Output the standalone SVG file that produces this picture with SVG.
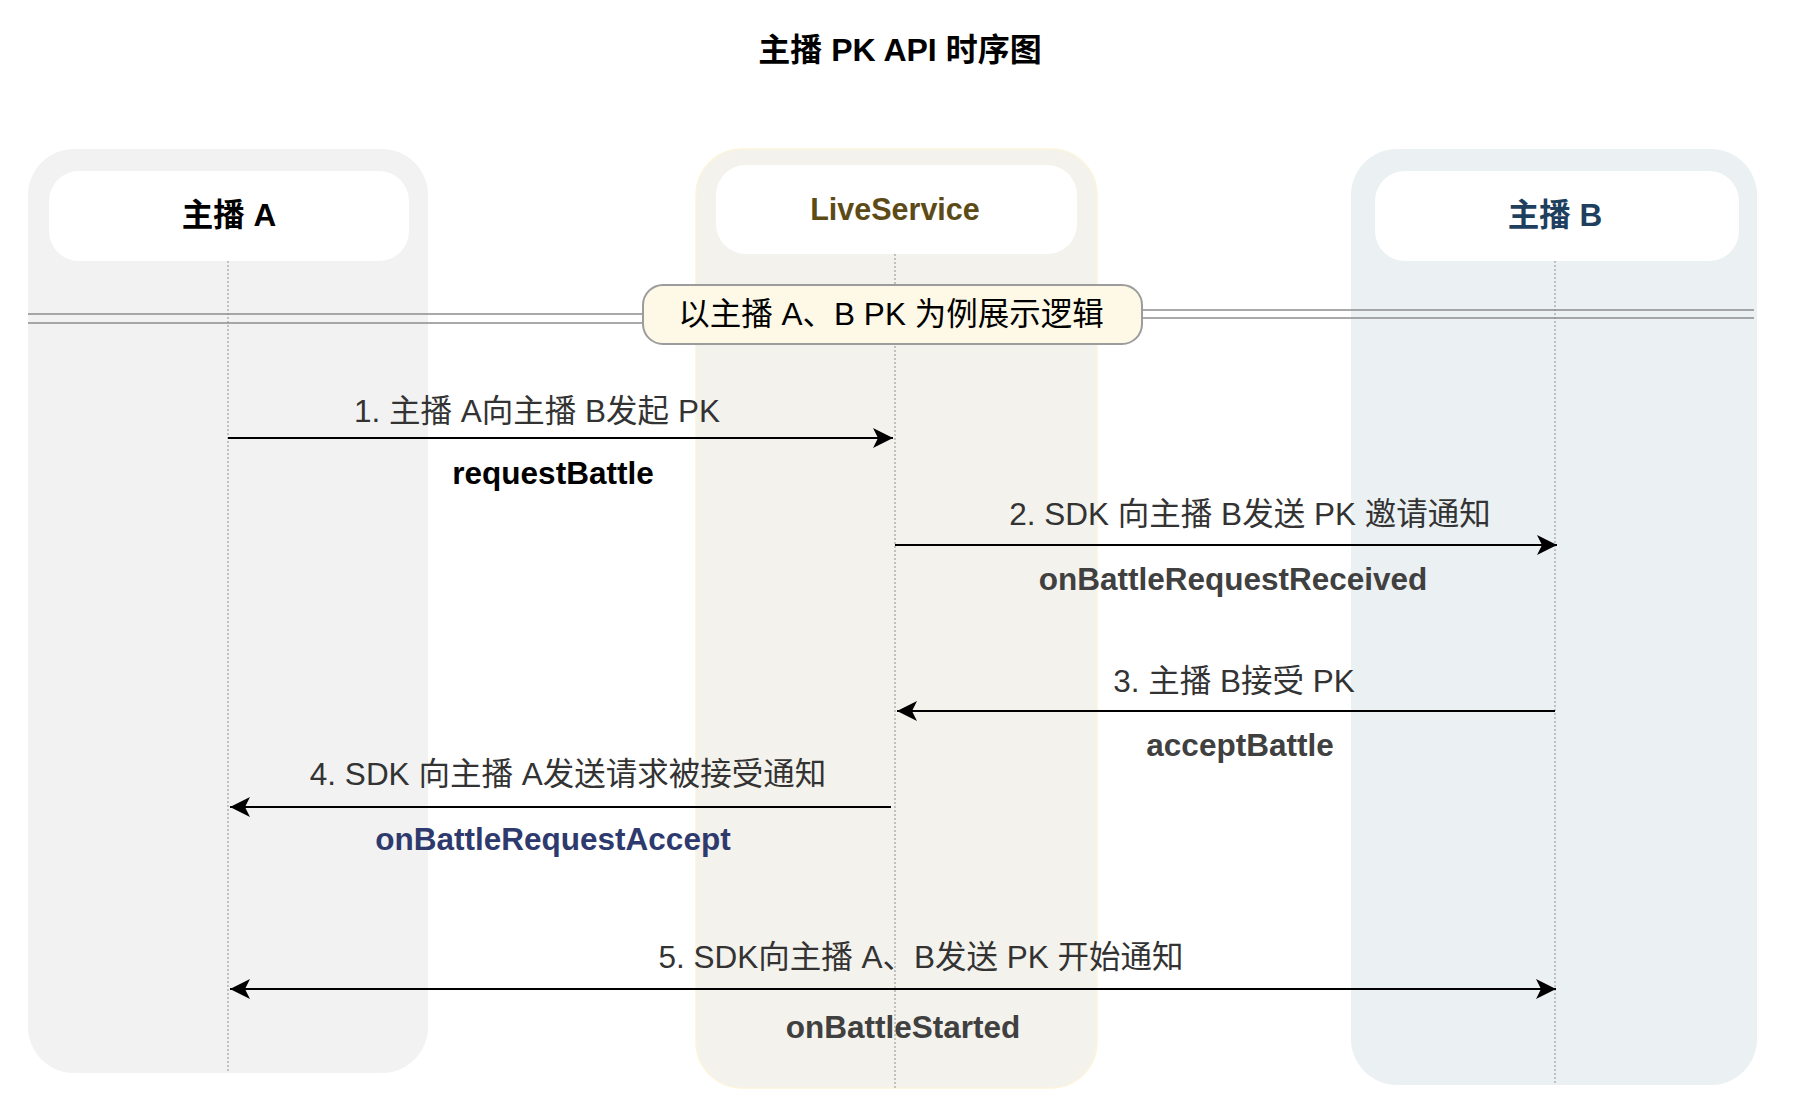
<svg xmlns="http://www.w3.org/2000/svg" width="1808" height="1112" viewBox="0 0 1808 1112">
<defs>
<style>
text{font-family:"Liberation Sans","Noto Sans CJK SC",sans-serif;font-size:31.5px;text-anchor:middle}
.b{font-weight:bold}
.lbl{fill:#333333}
.api{fill:#404040;font-weight:bold}
.life{stroke:#8f8f8f;stroke-width:1;stroke-dasharray:2 2;fill:none}
.msg{stroke:#000;stroke-width:2;fill:none}
.sep{stroke:#8c8c8c;stroke-width:1.5;fill:none}
.hdr{fill:#ffffff}
</style>
<marker id="ah" markerWidth="24" markerHeight="24" refX="20" refY="10" orient="auto-start-reverse" markerUnits="userSpaceOnUse" viewBox="0 0 24 24">
<path d="M20,10 L0,0 L5,10 L0,20 Z" fill="#000"/>
</marker>
</defs>
<rect width="1808" height="1112" fill="#ffffff"/>
<text class="b" x="900" y="61" fill="#000" style="font-size:32px">主播 PK API 时序图</text>

<g id="laneA">
<rect x="28" y="149" width="400" height="924" rx="46" fill="#f2f2f2"/>
<rect class="hdr" x="49" y="171" width="360" height="90" rx="30"/>
<text class="b" x="229" y="226" fill="#000">主播 A</text>
<line class="life" x1="228" y1="261" x2="228" y2="1073"/>
</g>

<g id="laneLive">
<rect x="696" y="149" width="401" height="939" rx="46" fill="#f3f2ec" stroke="#fcf5dc" stroke-width="1.5"/>
<rect class="hdr" x="716" y="165" width="361" height="89" rx="30"/>
<text class="b" x="895" y="220" fill="#5c4b16" style="font-size:30.5px">LiveService</text>
<line class="life" x1="895" y1="254" x2="895" y2="1088"/>
</g>

<g id="laneB">
<rect x="1351" y="149" width="406" height="936" rx="46" fill="#ebf0f2"/>
<rect class="hdr" x="1375" y="171" width="364" height="90" rx="30"/>
<text class="b" x="1555" y="226" fill="#1f3f5f">主播 B</text>
<line class="life" x1="1555" y1="261" x2="1555" y2="1085"/>
</g>

<g id="separator">
<line class="sep" x1="28" y1="314" x2="642" y2="314"/>
<line class="sep" x1="28" y1="323" x2="642" y2="323"/>
<line class="sep" x1="1142" y1="310" x2="1754" y2="310" stroke="#a0a0a0"/>
<line class="sep" x1="1142" y1="318" x2="1754" y2="318" stroke="#a0a0a0"/>
</g>

<g id="note">
<rect x="643" y="285" width="499" height="59" rx="20" fill="#fdf9e6" stroke="#9c9c9c" stroke-width="2"/>
<text x="891" y="325" fill="#000">以主播 A、B PK 为例展示逻辑</text>
</g>

<g id="connectors">
<line class="msg" x1="228" y1="438" x2="893" y2="438" marker-end="url(#ah)"/>
<line class="msg" x1="895" y1="545" x2="1557" y2="545" marker-end="url(#ah)"/>
<line class="msg" x1="1555" y1="711" x2="897" y2="711" marker-end="url(#ah)"/>
<line class="msg" x1="891" y1="807" x2="230" y2="807" marker-end="url(#ah)"/>
<line class="msg" x1="230" y1="989" x2="1556" y2="989" marker-start="url(#ah)" marker-end="url(#ah)"/>
</g>

<g id="labels">
<text class="lbl" x="537" y="422">1. 主播 A向主播 B发起 PK</text>
<text class="b" x="553" y="484" fill="#000">requestBattle</text>
<text class="lbl" x="1250" y="525">2. SDK 向主播 B发送 PK 邀请通知</text>
<text class="api" x="1233" y="590">onBattleRequestReceived</text>
<text class="lbl" x="1234" y="692">3. 主播 B接受 PK</text>
<text class="api" x="1240" y="756">acceptBattle</text>
<text class="lbl" x="568" y="785">4. SDK 向主播 A发送请求被接受通知</text>
<text class="b" x="553" y="850" fill="#2e3a6e">onBattleRequestAccept</text>
<text class="lbl" x="921" y="968">5. SDK向主播 A、B发送 PK 开始通知</text>
<text class="api" x="903" y="1038">onBattleStarted</text>
</g>
</svg>
